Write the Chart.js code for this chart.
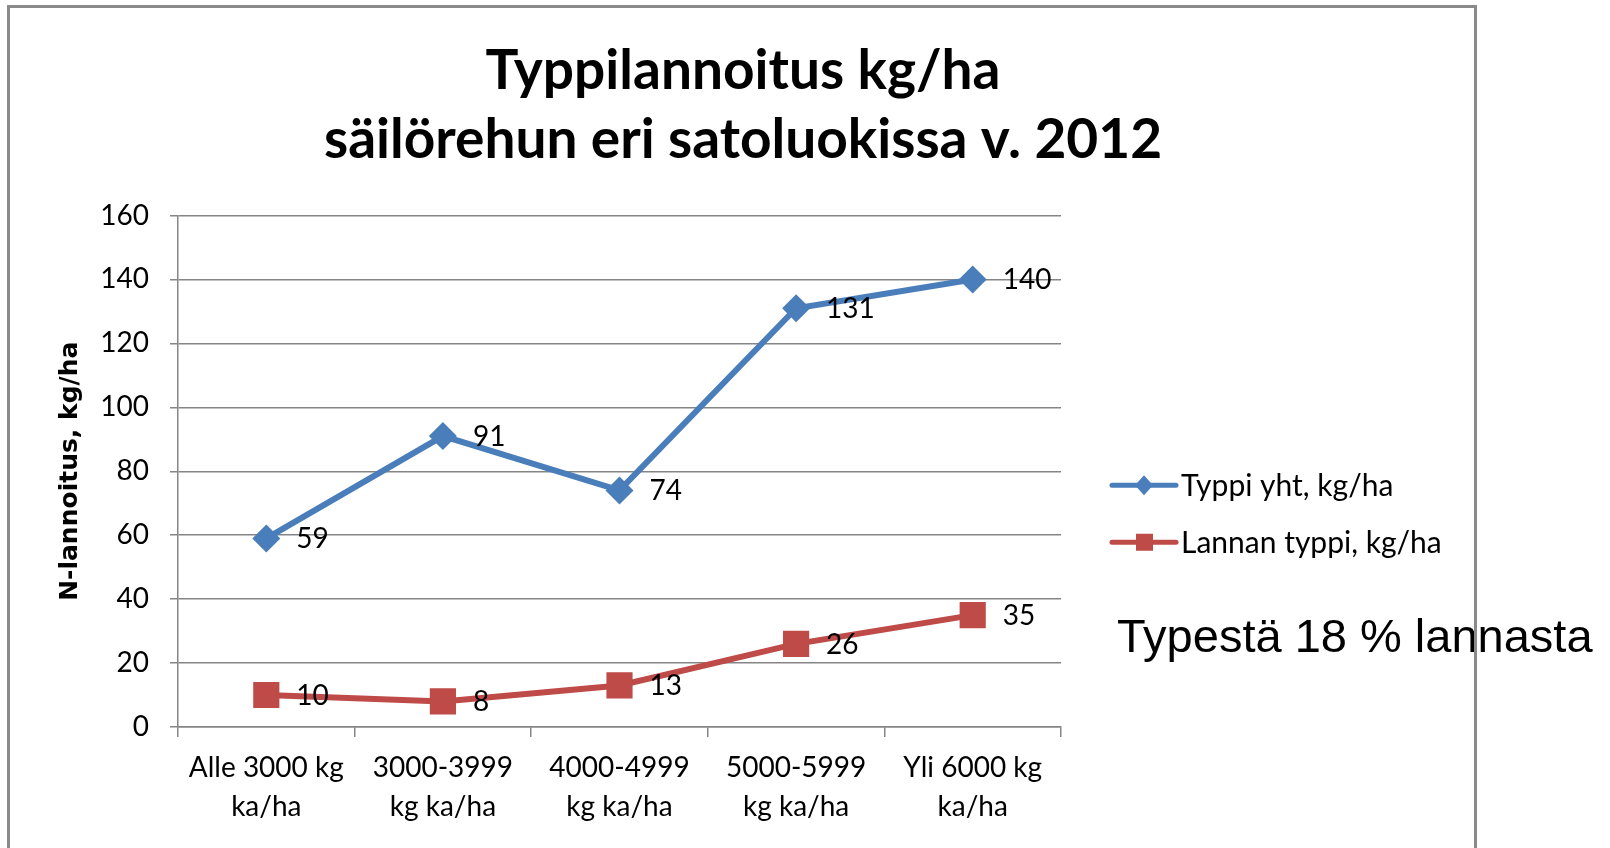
<!DOCTYPE html>
<html>
<head>
<meta charset="utf-8">
<title>Typpilannoitus kg/ha</title>
<script src="https://cdn.jsdelivr.net/npm/chart.js@4.4.0/dist/chart.umd.min.js"></script>
<style>
  body { margin: 0; background: #fff; }
  #wrap { position: relative; width: 1610px; height: 848px; overflow: hidden; }
  #frame { position: absolute; left: 7px; top: 5px; width: 1464px; height: 850px; border: 3px solid #8a8a8a; pointer-events: none; }
  #note { position: absolute; left: 1117px; top: 612px; font: 47px "Liberation Sans", Arial, sans-serif; line-height: 1; white-space: nowrap; color: #000; }
</style>
</head>
<body>
<div id="wrap">
  <canvas id="chart" width="1610" height="848"></canvas>
  <div id="note">Typestä 18 % lannasta</div>
  <div id="frame"></div>
</div>
<script>
// data
const categories = [
  ['Alle 3000 kg', 'ka/ha'],
  ['3000-3999', 'kg ka/ha'],
  ['4000-4999', 'kg ka/ha'],
  ['5000-5999', 'kg ka/ha'],
  ['Yli 6000 kg', 'ka/ha']
];
const typpiYht = [59, 91, 74, 131, 140];
const lannanTyppi = [10, 8, 13, 26, 35];
const yMin = 0;
const yMax = 160;
const yStep = 20;

const gridColor = '#858585';
const labelFont = { family: 'Lato', size: 28 };

// numbers next to every point
const valueLabels = {
  id: 'valueLabels',
  afterDatasetsDraw(chart) {
    const ctx = chart.ctx;
    ctx.save();
    ctx.font = '28px Lato';
    ctx.fillStyle = '#000';
    ctx.textBaseline = 'middle';
    chart.data.datasets.forEach((ds, i) => {
      chart.getDatasetMeta(i).data.forEach((pt, j) => {
        ctx.fillText(ds.data[j], pt.x + 30, pt.y + 1);
      });
    });
    ctx.restore();
  }
};

// legend on the right side, like excel does it
const sideLegend = {
  id: 'sideLegend',
  afterDraw(chart) {
    const ctx = chart.ctx;
    const area = chart.chartArea;
    const x0 = area.right + 51;
    const mid = (area.top + area.bottom) / 2;
    chart.data.datasets.forEach((ds, i) => {
      const y = mid + 14 + i * 57;
      ctx.save();
      ctx.strokeStyle = ds.borderColor;
      ctx.fillStyle = ds.borderColor;
      ctx.lineWidth = 5;
      ctx.lineCap = 'round';
      ctx.beginPath();
      ctx.moveTo(x0, y);
      ctx.lineTo(x0 + 64, y);
      ctx.stroke();
      ctx.beginPath();
      if (ds.pointStyle === 'rectRot') {
        ctx.moveTo(x0 + 32, y - 10);
        ctx.lineTo(x0 + 41, y);
        ctx.lineTo(x0 + 32, y + 10);
        ctx.lineTo(x0 + 23, y);
        ctx.closePath();
      } else {
        ctx.rect(x0 + 24, y - 8.5, 17, 17);
      }
      ctx.fill();
      ctx.font = '30px Lato';
      ctx.fillStyle = '#000';
      ctx.textBaseline = 'middle';
      ctx.fillText(ds.label, x0 + 69, y + 1);
      ctx.restore();
    });
  }
};

// centre the title over the whole frame, not only the plot
const titleCenter = {
  id: 'titleCenter',
  afterLayout(chart) {
    chart.titleBlock.left = 10;
    chart.titleBlock.right = 1476;
  }
};

new Chart(document.getElementById('chart'), {
  type: 'line',
  data: {
    labels: categories,
    datasets: [
      {
        label: 'Typpi yht, kg/ha',
        data: typpiYht,
        borderColor: '#4a7ebb',
        backgroundColor: '#4a7ebb',
        borderWidth: 6,
        pointStyle: 'rectRot',
        pointRadius: 14,
        pointBorderWidth: 0,
        tension: 0
      },
      {
        label: 'Lannan typpi, kg/ha',
        data: lannanTyppi,
        borderColor: '#be4b48',
        backgroundColor: '#be4b48',
        borderWidth: 6,
        pointStyle: 'rect',
        pointRadius: 18.5,
        pointBorderWidth: 0,
        tension: 0
      }
    ]
  },
  options: {
    responsive: false,
    animation: false,
    devicePixelRatio: 1,
    layout: { padding: { left: 10, right: 549, top: 0, bottom: 0 } },
    plugins: {
      legend: { display: false },
      tooltip: { enabled: false },
      title: {
        display: true,
        text: ['Typpilannoitus kg/ha', 'säilörehun eri satoluokissa v. 2012'],
        color: '#000',
        font: { family: 'Lato', weight: 'bold', size: 55, lineHeight: 1.25 },
        padding: { top: 37, bottom: 41 }
      }
    },
    scales: {
      x: {
        offset: true,
        grid: { offset: true, drawOnChartArea: false, drawTicks: true, tickLength: 10, color: gridColor, lineWidth: 1.5 },
        border: { color: gridColor, width: 1.5 },
        ticks: { font: { ...labelFont, lineHeight: 1.4 }, color: '#000', padding: 11, maxRotation: 0, autoSkip: false },
        afterFit(scale) { scale.height = 121; }
      },
      y: {
        min: yMin,
        max: yMax,
        ticks: { stepSize: yStep, font: labelFont, color: '#000', padding: 21 },
        grid: { color: gridColor, lineWidth: 1.5, tickLength: 8 },
        border: { color: gridColor, width: 1.5 },
        title: {
          display: true,
          text: 'N-lannoitus, kg/ha',
          color: '#000',
          font: { family: 'DejaVu Sans', weight: 'bold', size: 25 },
          padding: { top: 45, bottom: 0 }
        },
        afterFit(scale) { scale.width = 168; }
      }
    }
  },
  plugins: [valueLabels, sideLegend, titleCenter]
});
</script>
</body>
</html>
